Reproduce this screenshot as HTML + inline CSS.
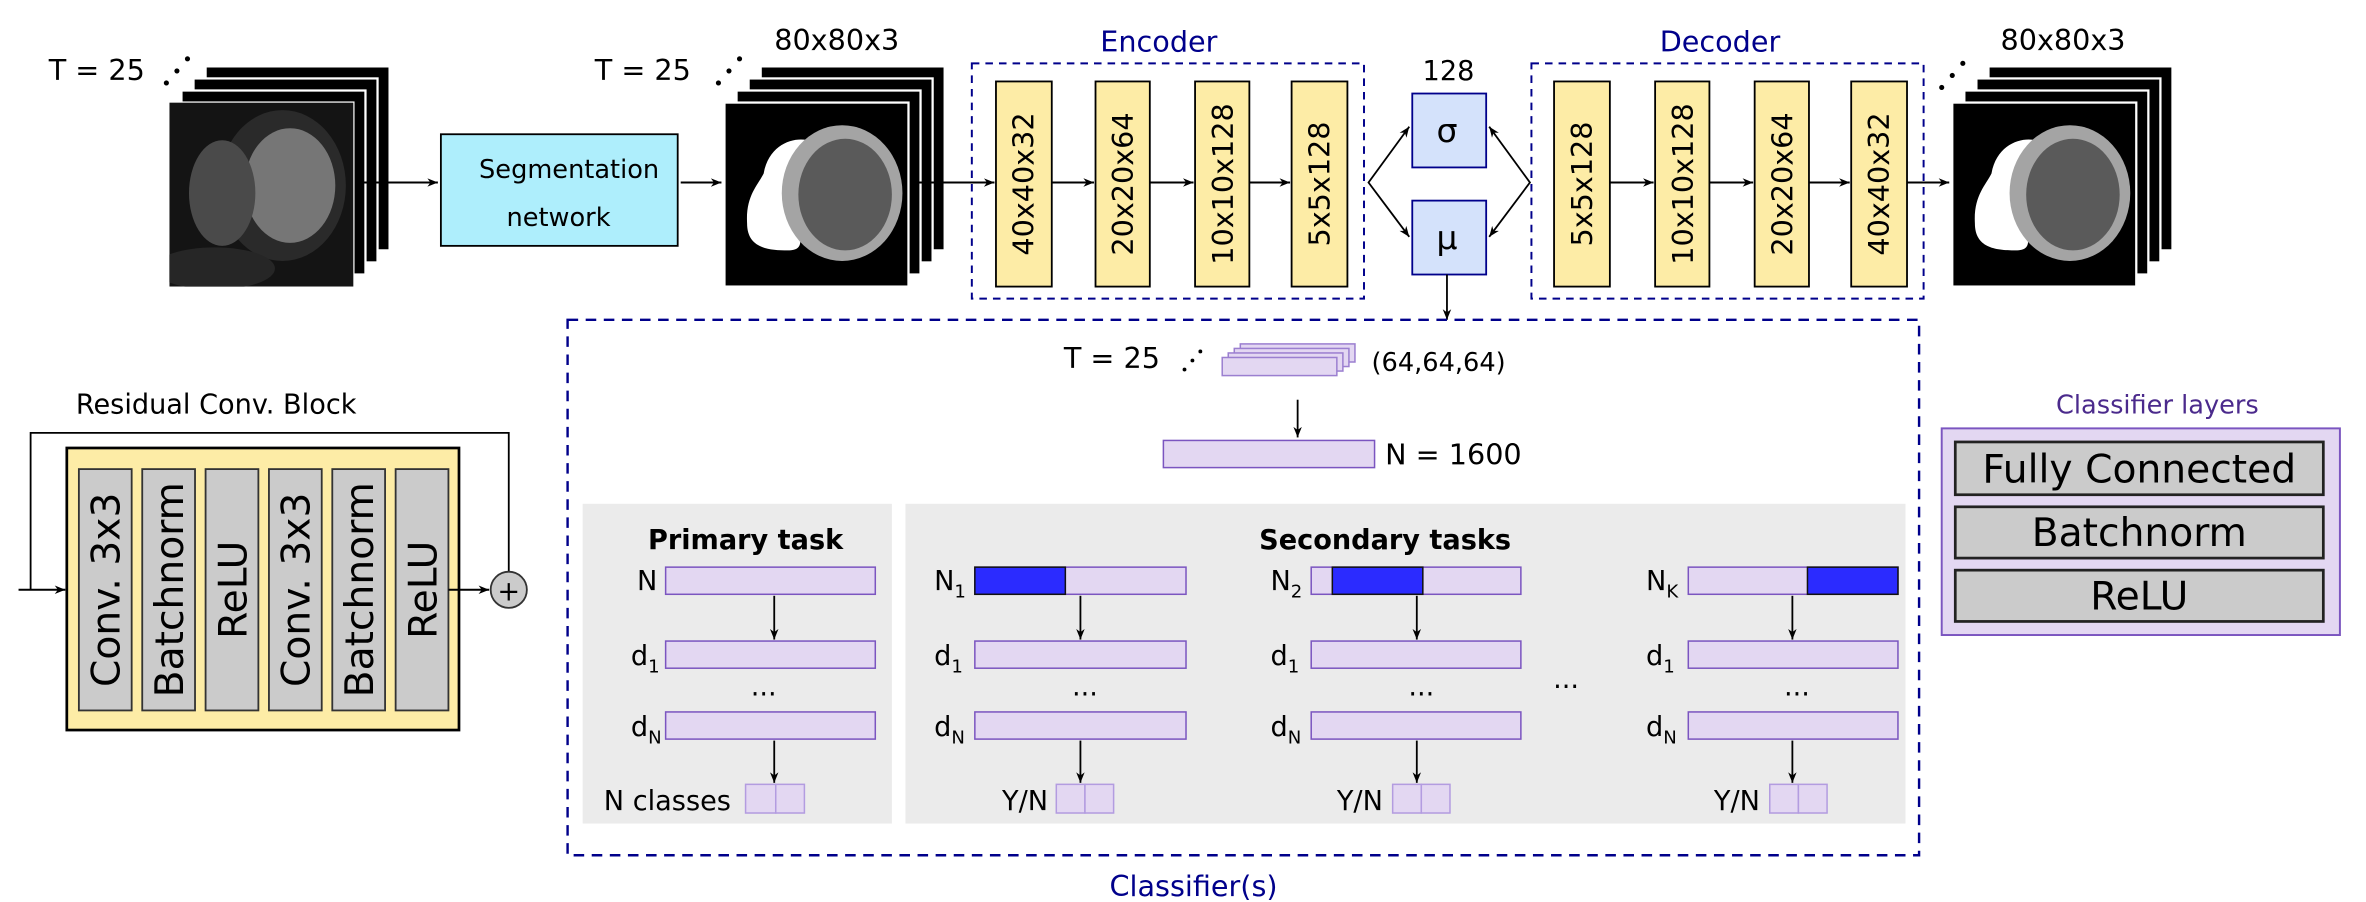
<!DOCTYPE html>
<html><head><meta charset="utf-8"><style>
html,body{margin:0;padding:0;background:#fff;}
svg{display:block;}
text{font-family:"DejaVu Sans","Liberation Sans",sans-serif;}
</style></head><body>
<svg width="2366" height="902" viewBox="0 0 1568 598" xmlns="http://www.w3.org/2000/svg">
<defs>
<marker id="a" viewBox="0 0 10 10" refX="10" refY="5" markerWidth="7" markerHeight="7" orient="auto-start-reverse" markerUnits="userSpaceOnUse"><path d="M0,1 L10,5 L0,9 L3,5 z" fill="#000"/></marker>
<clipPath id="fc"><rect x="0" y="0" width="122" height="122"/></clipPath>
<g id="stackbg">
<rect x="24" y="-24" width="122" height="122" fill="#000" stroke="#fff" stroke-width="1.5"/>
<rect x="16" y="-16" width="122" height="122" fill="#000" stroke="#fff" stroke-width="1.5"/>
<rect x="8" y="-8" width="122" height="122" fill="#000" stroke="#fff" stroke-width="1.5"/>
<rect x="0" y="0" width="122" height="122" fill="#000" stroke="#fff" stroke-width="1.5"/>
</g>
<g id="seg">
<use href="#stackbg"/>
<path d="M26,47 C30,25 50,22 58,26 C52,40 50,60 48,78 C50,90 54,98 42,98 C28,98 15,96 15,80 C14,62 22,55 26,47z" fill="#fff"/>
<ellipse cx="78" cy="60" rx="40" ry="45" fill="#a4a4a4"/>
<ellipse cx="80" cy="61" rx="31" ry="37" fill="#5a5a5a"/>
</g>
<g id="dots" fill="#000">
<circle cx="0" cy="0" r="1.7"/><circle cx="7" cy="-8" r="1.7"/><circle cx="14" cy="-16" r="1.7"/>
</g>
</defs>

<!-- Input MRI stack -->
<g transform="translate(112,68)">
<use href="#stackbg"/>
<g clip-path="url(#fc)">
<rect x="0" y="0" width="122" height="122" fill="#141414"/>
<ellipse cx="75" cy="55" rx="42" ry="50" fill="#2a2a2a"/>
<ellipse cx="80" cy="55" rx="30" ry="38" fill="#767676"/>
<ellipse cx="35" cy="60" rx="22" ry="35" fill="#4a4a4a"/>
<ellipse cx="30" cy="110" rx="40" ry="14" fill="#262626"/>
</g>
</g>
<text x="32" y="53" font-size="19">T = 25</text>
<use href="#dots" x="110" y="55"/>

<line x1="236" y1="121" x2="290" y2="121" stroke="#000" stroke-width="1.3" marker-end="url(#a)"/>
<rect x="292" y="89" width="157" height="74" fill="#aeeefc" stroke="#000" stroke-width="1.2"/>
<text x="377" y="118" font-size="17" text-anchor="middle">Segmentation</text>
<text x="370" y="150" font-size="17" text-anchor="middle">network</text>
<line x1="451" y1="121" x2="478" y2="121" stroke="#000" stroke-width="1.3" marker-end="url(#a)"/>

<g transform="translate(480,68)"><use href="#seg"/></g>
<text x="394" y="53" font-size="19">T = 25</text>
<use href="#dots" x="476" y="55"/>
<text x="513" y="33" font-size="19">80x80x3</text>

<!-- Encoder -->
<text x="768" y="34" font-size="19" fill="#00008b" text-anchor="middle">Encoder</text>
<rect x="644" y="42" width="260" height="156" fill="none" stroke="#00008b" stroke-width="1.3" stroke-dasharray="5,4"/>
<line x1="604" y1="121" x2="659" y2="121" stroke="#000" stroke-width="1.3" marker-end="url(#a)"/>
<g stroke="#000" stroke-width="1.2" fill="#fdeca6">
<rect x="660" y="54" width="37" height="136"/>
<rect x="726" y="54" width="36" height="136"/>
<rect x="792" y="54" width="36" height="136"/>
<rect x="856" y="54" width="37" height="136"/>
</g>
<g stroke="#000" stroke-width="1.3">
<line x1="697" y1="121" x2="725" y2="121" marker-end="url(#a)"/>
<line x1="762" y1="121" x2="791" y2="121" marker-end="url(#a)"/>
<line x1="828" y1="121" x2="855" y2="121" marker-end="url(#a)"/>
</g>
<g font-size="19" text-anchor="middle">
<text transform="translate(685,122) rotate(-90)">40x40x32</text>
<text transform="translate(751,122) rotate(-90)">20x20x64</text>
<text transform="translate(817,122) rotate(-90)">10x10x128</text>
<text transform="translate(881,122) rotate(-90)">5x5x128</text>
</g>

<!-- latent -->
<text x="960" y="53" font-size="18" text-anchor="middle">128</text>
<rect x="936" y="62" width="49" height="49" fill="#d4e2fb" stroke="#00008b" stroke-width="1.2"/>
<rect x="936" y="133" width="49" height="49" fill="#d4e2fb" stroke="#00008b" stroke-width="1.2"/>
<text x="959" y="94" font-size="22" text-anchor="middle">σ</text>
<text x="959" y="165" font-size="22" text-anchor="middle">μ</text>
<g stroke="#000" stroke-width="1.2" fill="none">
<polyline points="934,84 907,121 934,157" marker-start="url(#a)" marker-end="url(#a)"/>
<polyline points="987,84 1014,121 987,157" marker-start="url(#a)" marker-end="url(#a)"/>
<line x1="959" y1="182" x2="959" y2="212" marker-end="url(#a)"/>
</g>

<!-- Decoder -->
<text x="1140" y="34" font-size="19" fill="#00008b" text-anchor="middle">Decoder</text>
<rect x="1015" y="42" width="260" height="156" fill="none" stroke="#00008b" stroke-width="1.3" stroke-dasharray="5,4"/>
<g stroke="#000" stroke-width="1.2" fill="#fdeca6">
<rect x="1030" y="54" width="37" height="136"/>
<rect x="1097" y="54" width="36" height="136"/>
<rect x="1163" y="54" width="36" height="136"/>
<rect x="1227" y="54" width="37" height="136"/>
</g>
<g stroke="#000" stroke-width="1.3">
<line x1="1067" y1="121" x2="1096" y2="121" marker-end="url(#a)"/>
<line x1="1133" y1="121" x2="1162" y2="121" marker-end="url(#a)"/>
<line x1="1199" y1="121" x2="1226" y2="121" marker-end="url(#a)"/>
<line x1="1264" y1="121" x2="1292" y2="121" marker-end="url(#a)"/>
</g>
<g font-size="19" text-anchor="middle">
<text transform="translate(1055,122) rotate(-90)">5x5x128</text>
<text transform="translate(1122,122) rotate(-90)">10x10x128</text>
<text transform="translate(1188,122) rotate(-90)">20x20x64</text>
<text transform="translate(1252,122) rotate(-90)">40x40x32</text>
</g>
<g transform="translate(1294,68)"><use href="#seg"/></g>
<use href="#dots" x="1287" y="58"/>
<text x="1326" y="33" font-size="19">80x80x3</text>

<!-- Residual block -->
<text x="50" y="274" font-size="18">Residual Conv. Block</text>
<polyline points="20,391 20,287 337,287 337,379" fill="none" stroke="#000" stroke-width="1.2"/>
<line x1="12" y1="391" x2="43" y2="391" stroke="#000" stroke-width="1.3" marker-end="url(#a)"/>
<rect x="44" y="297" width="260" height="187" fill="#fdeca6" stroke="#000" stroke-width="1.8"/>
<g fill="#cbcbcb" stroke="#333" stroke-width="1.2">
<rect x="52" y="311" width="35" height="160"/>
<rect x="94" y="311" width="35" height="160"/>
<rect x="136" y="311" width="35" height="160"/>
<rect x="178" y="311" width="35" height="160"/>
<rect x="220" y="311" width="35" height="160"/>
<rect x="262" y="311" width="35" height="160"/>
</g>
<g font-size="26" text-anchor="middle">
<text transform="translate(79,391) rotate(-90)">Conv. 3x3</text>
<text transform="translate(121,391) rotate(-90)">Batchnorm</text>
<text transform="translate(163,391) rotate(-90)">ReLU</text>
<text transform="translate(205,391) rotate(-90)">Conv. 3x3</text>
<text transform="translate(247,391) rotate(-90)">Batchnorm</text>
<text transform="translate(289,391) rotate(-90)">ReLU</text>
</g>
<line x1="297" y1="391" x2="324" y2="391" stroke="#000" stroke-width="1.3" marker-end="url(#a)"/>
<circle cx="337" cy="391" r="12" fill="#cbcbcb" stroke="#333" stroke-width="1.2"/>
<text x="337" y="398" font-size="18" text-anchor="middle">+</text>

<!-- Classifier -->
<rect x="376" y="212" width="896" height="355" fill="none" stroke="#00008b" stroke-width="1.6" stroke-dasharray="7,5"/>
<text x="791" y="594" font-size="19" fill="#00008b" text-anchor="middle">Classifier(s)</text>
<text x="705" y="244" font-size="19">T = 25</text>
<g transform="translate(785,245) scale(0.75)"><use href="#dots"/></g>
<g fill="#e3d7f2" stroke="#9b7fd0" stroke-width="1">
<rect x="822" y="228" width="76" height="12"/>
<rect x="818" y="231" width="76" height="12"/>
<rect x="814" y="234" width="76" height="12"/>
<rect x="810" y="237" width="76" height="12"/>
</g>
<text x="909" y="246" font-size="17">(64,64,64)</text>
<line x1="860" y1="265" x2="860" y2="290" stroke="#000" stroke-width="1.2" marker-end="url(#a)"/>
<rect x="771" y="292" width="140" height="18" fill="#e3d7f2" stroke="#7b55c0" stroke-width="1"/>
<text x="918" y="308" font-size="19">N = 1600</text>

<rect x="386" y="334" width="205" height="212" fill="#ebebeb"/>
<rect x="600" y="334" width="663" height="212" fill="#ebebeb"/>
<text x="494" y="364" font-size="18" font-weight="bold" text-anchor="middle">Primary task</text>
<text x="918" y="364" font-size="18" font-weight="bold" text-anchor="middle">Secondary tasks</text>

<g fill="#e3d7f2" stroke="#7b55c0" stroke-width="1">
<rect x="441" y="376" width="139" height="18"/>
<rect x="441" y="425" width="139" height="18"/>
<rect x="441" y="472" width="139" height="18"/>
<rect x="646" y="376" width="140" height="18"/>
<rect x="646" y="425" width="140" height="18"/>
<rect x="646" y="472" width="140" height="18"/>
<rect x="869" y="376" width="139" height="18"/>
<rect x="869" y="425" width="139" height="18"/>
<rect x="869" y="472" width="139" height="18"/>
<rect x="1119" y="376" width="139" height="18"/>
<rect x="1119" y="425" width="139" height="18"/>
<rect x="1119" y="472" width="139" height="18"/>
</g>
<g fill="#2b2bff" stroke="#111" stroke-width="1">
<rect x="646" y="376" width="60" height="18"/>
<rect x="883" y="376" width="60" height="18"/>
<rect x="1198" y="376" width="60" height="18"/>
</g>
<g fill="#e3d7f2" stroke="#b39ce0" stroke-width="1">
<rect x="494" y="520" width="20" height="19"/><rect x="514" y="520" width="19" height="19"/>
<rect x="700" y="520" width="19" height="19"/><rect x="719" y="520" width="19" height="19"/>
<rect x="923" y="520" width="19" height="19"/><rect x="942" y="520" width="19" height="19"/>
<rect x="1173" y="520" width="19" height="19"/><rect x="1192" y="520" width="19" height="19"/>
</g>
<g stroke="#000" stroke-width="1.2">
<line x1="513" y1="395" x2="513" y2="424" marker-end="url(#a)"/>
<line x1="513" y1="491" x2="513" y2="519" marker-end="url(#a)"/>
<line x1="716" y1="395" x2="716" y2="424" marker-end="url(#a)"/>
<line x1="716" y1="491" x2="716" y2="519" marker-end="url(#a)"/>
<line x1="939" y1="395" x2="939" y2="424" marker-end="url(#a)"/>
<line x1="939" y1="491" x2="939" y2="519" marker-end="url(#a)"/>
<line x1="1188" y1="395" x2="1188" y2="424" marker-end="url(#a)"/>
<line x1="1188" y1="491" x2="1188" y2="519" marker-end="url(#a)"/>
</g>
<g font-size="18">
<text x="422" y="391">N</text>
<text x="418" y="441">d<tspan font-size="12" dy="5">1</tspan></text>
<text x="418" y="488">d<tspan font-size="12" dy="5">N</tspan></text>
<text x="400" y="537">N classes</text>
<text x="506" y="461" text-anchor="middle">...</text>
<text x="619" y="391">N<tspan font-size="12" dy="5">1</tspan></text>
<text x="619" y="441">d<tspan font-size="12" dy="5">1</tspan></text>
<text x="619" y="488">d<tspan font-size="12" dy="5">N</tspan></text>
<text x="664" y="537">Y/N</text>
<text x="719" y="461" text-anchor="middle">...</text>
<text x="842" y="391">N<tspan font-size="12" dy="5">2</tspan></text>
<text x="842" y="441">d<tspan font-size="12" dy="5">1</tspan></text>
<text x="842" y="488">d<tspan font-size="12" dy="5">N</tspan></text>
<text x="886" y="537">Y/N</text>
<text x="942" y="461" text-anchor="middle">...</text>
<text x="1038" y="456" text-anchor="middle">...</text>
<text x="1091" y="391">N<tspan font-size="12" dy="5">K</tspan></text>
<text x="1091" y="441">d<tspan font-size="12" dy="5">1</tspan></text>
<text x="1091" y="488">d<tspan font-size="12" dy="5">N</tspan></text>
<text x="1136" y="537">Y/N</text>
<text x="1191" y="461" text-anchor="middle">...</text>
</g>

<!-- Classifier layers -->
<text x="1430" y="274" font-size="17" fill="#4b2a8c" text-anchor="middle">Classifier layers</text>
<rect x="1287" y="284" width="264" height="137" fill="#e3d7f2" stroke="#7b55c0" stroke-width="1.3"/>
<g fill="#cbcbcb" stroke="#222" stroke-width="1.8">
<rect x="1296" y="293" width="244" height="35"/>
<rect x="1296" y="336" width="244" height="34"/>
<rect x="1296" y="378" width="244" height="34"/>
</g>
<g font-size="26" text-anchor="middle">
<text x="1418" y="320">Fully Connected</text>
<text x="1418" y="362">Batchnorm</text>
<text x="1418" y="404">ReLU</text>
</g>
</svg>
</body></html>
